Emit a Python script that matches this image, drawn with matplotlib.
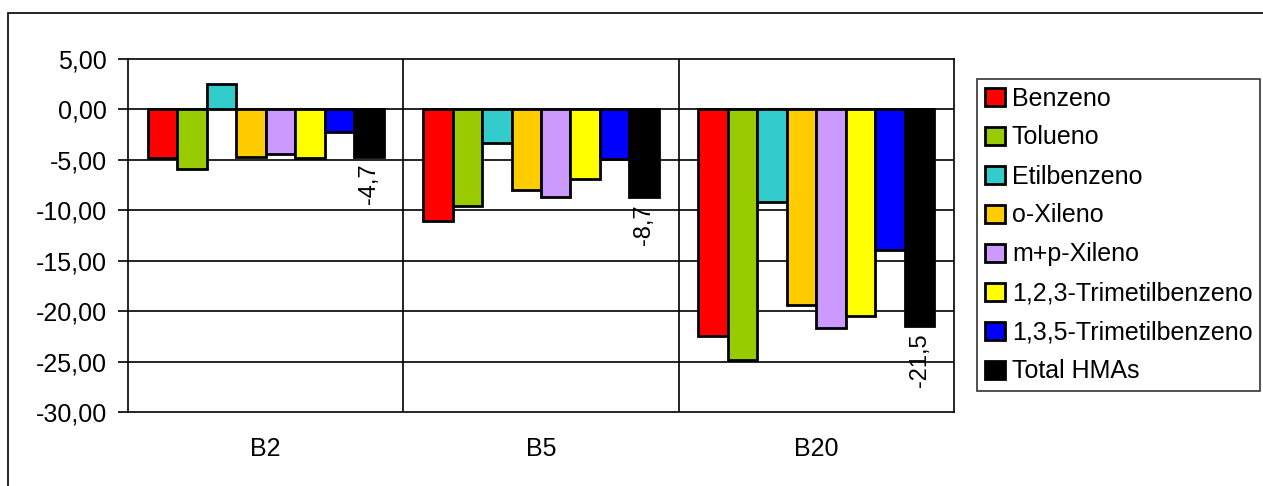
import numpy as np
import matplotlib.pyplot as plt
from matplotlib.patches import Rectangle
from matplotlib.ticker import FuncFormatter

plt.rcParams['font.family'] = ['Liberation Sans', 'DejaVu Sans']

# blends and compounds
blends = ['B2', 'B5', 'B20']
compounds = ['Benzeno', 'Tolueno', 'Etilbenzeno', 'o-Xileno', 'm+p-Xileno',
             '1,2,3-Trimetilbenzeno', '1,3,5-Trimetilbenzeno', 'Total HMAs']
colors = ['#FF0000', '#99CC00', '#33CCCC', '#FFCC00', '#CC99FF',
          '#FFFF00', '#0000FF', '#000000']

# percentage change per compound, one list per blend
b2_vals = [-4.8, -5.9, 2.5, -4.7, -4.4, -4.8, -2.2, -4.7]
b5_vals = [-11.1, -9.6, -3.3, -8.0, -8.7, -6.9, -4.9, -8.7]
b20_vals = [-22.5, -24.8, -9.2, -19.4, -21.7, -20.5, -13.9, -21.5]

values = np.array([b2_vals, b5_vals, b20_vals])

fig = plt.figure(figsize=(12.63, 4.86), dpi=100)
ax = fig.add_axes([128 / 1263, 1 - 412 / 486, (954 - 128) / 1263, (412 - 59) / 486])

x = np.arange(len(blends))
group = 0.857
w = group / len(compounds)
for j, (name, col) in enumerate(zip(compounds, colors)):
    pos = x + (j - (len(compounds) - 1) / 2) * w
    bars = ax.bar(pos, values[:, j], width=w, color=col, edgecolor='black',
                  linewidth=2, label=name, zorder=3)
    if name == 'Total HMAs':
        for b, v in zip(bars, values[:, j]):
            ax.annotate(f'{v:.1f}'.replace('.', ','),
                        (b.get_x() + b.get_width() / 2, v),
                        xytext=(0, -5), textcoords='offset points',
                        rotation=90, ha='center', va='top', fontsize=17,
                        zorder=4)

ax.set_xlim(-0.5, 2.5)
ax.set_ylim(-30, 5)
ax.set_yticks(np.arange(-30, 6, 5))
ax.yaxis.set_major_formatter(FuncFormatter(lambda v, p: f'{v:.2f}'.replace('.', ',')))
ax.set_xticks(x)
ax.set_xticklabels(blends)
ax.tick_params(axis='y', length=7, width=1.2, pad=8, labelsize=18)
ax.tick_params(axis='x', length=0, pad=18, labelsize=18)

for yv in np.arange(-25, 5, 5):
    ax.axhline(yv, color='black', linewidth=1.2, zorder=1)
for xv in [0.5, 1.5]:
    ax.axvline(xv, color='black', linewidth=1.2, zorder=1)
for s in ax.spines.values():
    s.set_linewidth(1.2)
    s.set_color('black')

leg = fig.legend(loc='upper left', bbox_to_anchor=(977 / 1263, 1 - 79 / 486),
                 fontsize=18, frameon=True, fancybox=False, edgecolor='black',
                 handlelength=0.8, handleheight=0.75, handletextpad=0.3,
                 labelspacing=0.6, borderpad=0.3, borderaxespad=0)
leg.get_frame().set_linewidth(1.2)
for h in leg.legend_handles:
    h.set_linewidth(2)

# outer chart frame, open to the right and bottom
fig.patches.append(Rectangle((8 / 1263, -0.1), 1.2, 1.1 - 13 / 486,
                             transform=fig.transFigure, fill=False,
                             edgecolor='black', linewidth=1.2))

fig.savefig('out.png', dpi=100)
